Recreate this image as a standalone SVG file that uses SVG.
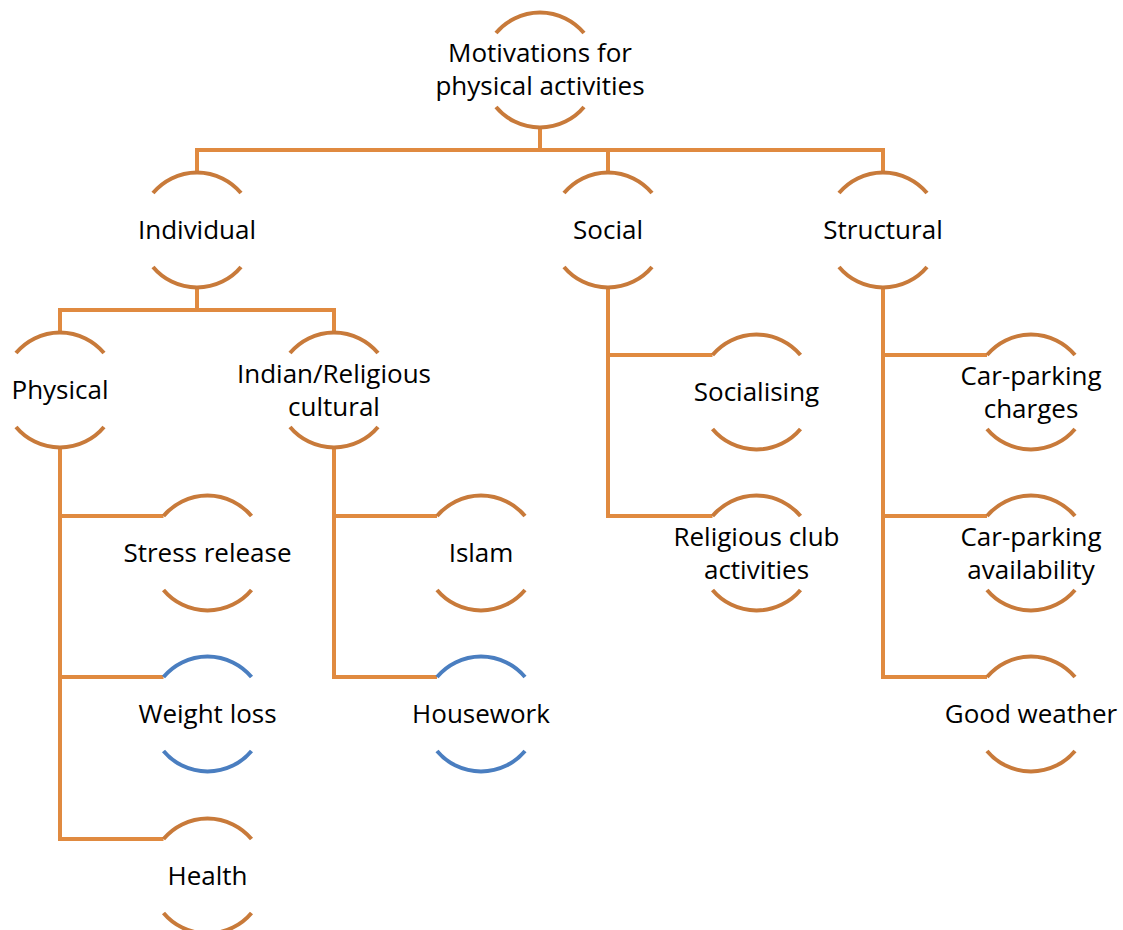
<svg xmlns="http://www.w3.org/2000/svg" xmlns:xlink="http://www.w3.org/1999/xlink" width="1123" height="930" viewBox="0 0 1123 930">
  <style>
    .wire { fill: none; stroke: #E08A40; stroke-width: 4; stroke-linejoin: miter; stroke-linecap: butt; }
    .ring { fill: none; stroke-width: 4; }
    .orange { stroke: #C87A3A; }
    .blue { stroke: #4A7EC0; }
    text { font-family: "Open Sans", "Liberation Sans", sans-serif; font-size: 26px; fill: #000; text-anchor: middle; }
  </style>
  <defs>
    <!-- open circle: top and bottom arcs only, centred at the origin -->
    <g id="ring">
      <path d="M-44 -37 A57.5 57.5 0 0 1 44 -37"/>
      <path d="M-44 37 A57.5 57.5 0 0 0 44 37"/>
    </g>
  </defs>
  <rect width="1123" height="930" fill="#FFFFFF"/>

  <g id="connectors" class="wire">
    <path d="M540 127.5 V150"/>
    <path d="M197 172.5 V150 H883 V172.5"/>
    <path d="M608 150 V172.5"/>
    <path d="M197 287.5 V310"/>
    <path d="M60 332.5 V310 H334 V332.5"/>
    <path d="M60 447.5 V839 H163.5"/>
    <path d="M60 516 H163.5"/>
    <path d="M60 677 H163.5"/>
    <path d="M334 447.5 V677 H437"/>
    <path d="M334 516 H437"/>
    <path d="M608 287.5 V516 H712.5"/>
    <path d="M608 355 H712.5"/>
    <path d="M883 287.5 V677 H987"/>
    <path d="M883 355 H987"/>
    <path d="M883 516 H987"/>
  </g>

  <g id="node-root">
    <use xlink:href="#ring" class="ring orange" transform="translate(540 70)"/>
    <text x="540" y="62">Motivations for</text>
    <text x="540" y="95">physical activities</text>
  </g>
  <g id="node-individual">
    <use xlink:href="#ring" class="ring orange" transform="translate(197 230)"/>
    <text x="197" y="239">Individual</text>
  </g>
  <g id="node-social">
    <use xlink:href="#ring" class="ring orange" transform="translate(608 230)"/>
    <text x="608" y="239">Social</text>
  </g>
  <g id="node-structural">
    <use xlink:href="#ring" class="ring orange" transform="translate(883 230)"/>
    <text x="883" y="239">Structural</text>
  </g>
  <g id="node-physical">
    <use xlink:href="#ring" class="ring orange" transform="translate(60 390)"/>
    <text x="60" y="399">Physical</text>
  </g>
  <g id="node-indian">
    <use xlink:href="#ring" class="ring orange" transform="translate(334 390)"/>
    <text x="334" y="383">Indian/Religious</text>
    <text x="334" y="416">cultural</text>
  </g>
  <g id="node-stress">
    <use xlink:href="#ring" class="ring orange" transform="translate(207.5 553)"/>
    <text x="207.5" y="562">Stress release</text>
  </g>
  <g id="node-weight">
    <use xlink:href="#ring" class="ring blue" transform="translate(207.5 714)"/>
    <text x="207.5" y="723">Weight loss</text>
  </g>
  <g id="node-health">
    <use xlink:href="#ring" class="ring orange" transform="translate(207.5 876)"/>
    <text x="207.5" y="885">Health</text>
  </g>
  <g id="node-islam">
    <use xlink:href="#ring" class="ring orange" transform="translate(481 553)"/>
    <text x="481" y="562">Islam</text>
  </g>
  <g id="node-housework">
    <use xlink:href="#ring" class="ring blue" transform="translate(481 714)"/>
    <text x="481" y="723">Housework</text>
  </g>
  <g id="node-socialising">
    <use xlink:href="#ring" class="ring orange" transform="translate(756.5 392)"/>
    <text x="756.5" y="401">Socialising</text>
  </g>
  <g id="node-religious-club">
    <use xlink:href="#ring" class="ring orange" transform="translate(756.5 553)"/>
    <text x="756.5" y="546">Religious club</text>
    <text x="756.5" y="579">activities</text>
  </g>
  <g id="node-parking-charges">
    <use xlink:href="#ring" class="ring orange" transform="translate(1031 392)"/>
    <text x="1031" y="385">Car-parking</text>
    <text x="1031" y="418">charges</text>
  </g>
  <g id="node-parking-availability">
    <use xlink:href="#ring" class="ring orange" transform="translate(1031 553)"/>
    <text x="1031" y="546">Car-parking</text>
    <text x="1031" y="579">availability</text>
  </g>
  <g id="node-weather">
    <use xlink:href="#ring" class="ring orange" transform="translate(1031 714)"/>
    <text x="1031" y="723">Good weather</text>
  </g>
</svg>
